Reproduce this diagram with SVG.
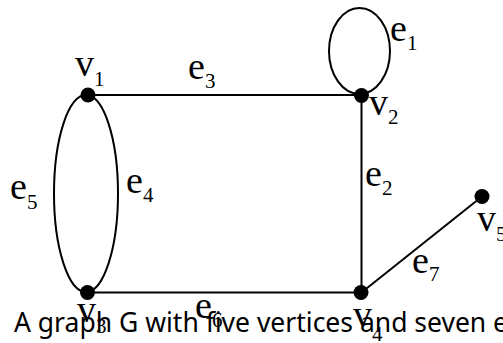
<svg xmlns="http://www.w3.org/2000/svg" width="503" height="343" viewBox="0 0 503 343">
<style>
.edge{fill:none;stroke:#000;stroke-width:2}
.dot{fill:#000}
.lbl{font-family:"Liberation Serif","Times New Roman",serif;font-size:38px;fill:#000}
.sub{font-size:21px}
.cap{font-family:"Noto Sans","Open Sans",sans-serif;font-size:26.5px;fill:#000}
</style>
<rect width="503" height="343" fill="#fff"/>
<g id="edges">
<ellipse id="e1" class="edge" cx="359.5" cy="51" rx="30.5" ry="43"/>
<line id="e3" class="edge" x1="88" y1="95" x2="361.5" y2="95"/>
<line id="e2" class="edge" x1="361.5" y1="95" x2="361.5" y2="292.5"/>
<ellipse id="e4e5" class="edge" cx="86" cy="193.5" rx="32" ry="98.5"/>
<line id="e6" class="edge" x1="88" y1="292.5" x2="361.5" y2="292.5"/>
<line id="e7" class="edge" x1="361.5" y1="292.5" x2="482" y2="196.5"/>
</g>
<g id="edge-labels">
<text class="lbl" x="390" y="41">e<tspan class="sub" dy="9">1</tspan></text>
<text class="lbl" x="365" y="186">e<tspan class="sub" dy="9">2</tspan></text>
<text class="lbl" x="188" y="79">e<tspan class="sub" dy="9">3</tspan></text>
<text class="lbl" x="126" y="193">e<tspan class="sub" dy="9">4</tspan></text>
<text class="lbl" x="10" y="199">e<tspan class="sub" dy="10">5</tspan></text>
<text class="lbl" x="195" y="318">e<tspan class="sub" dy="9">6</tspan></text>
<text class="lbl" x="412" y="273">e<tspan class="sub" dy="8">7</tspan></text>
</g>
<g id="v1"><circle class="dot" cx="88" cy="95" r="7.5"/><text class="lbl" x="75" y="76">v<tspan class="sub" dy="10">1</tspan></text></g>
<g id="v2"><circle class="dot" cx="361.5" cy="95.5" r="7.5"/><text class="lbl" x="369" y="115">v<tspan class="sub" dy="9">2</tspan></text></g>
<g id="v3"><circle class="dot" cx="87.5" cy="292.5" r="7.5"/><text class="lbl" x="77" y="322">v<tspan class="sub" dy="11">3</tspan></text></g>
<g id="v4"><circle class="dot" cx="361" cy="292.5" r="7.5"/><text class="lbl" x="353" y="327">v<tspan class="sub" dy="14">4</tspan></text></g>
<g id="v5"><circle class="dot" cx="482" cy="196.5" r="7.5"/><text class="lbl" x="477" y="231">v<tspan class="sub" dy="10">5</tspan></text></g>
<text class="cap" x="14" y="332">A graph G with five vertices and seven edges</text>
</svg>
